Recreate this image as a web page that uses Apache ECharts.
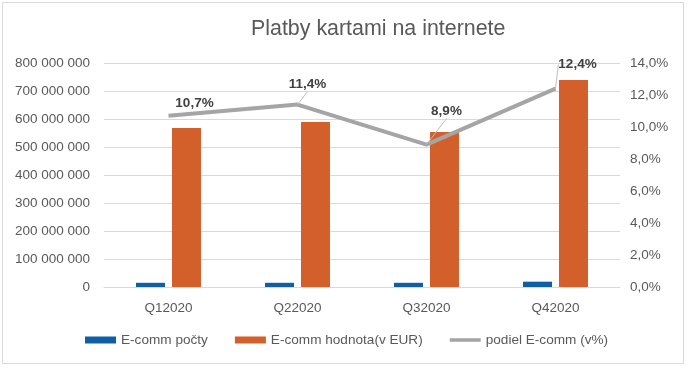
<!DOCTYPE html>
<html>
<head>
<meta charset="utf-8">
<script src="https://cdn.jsdelivr.net/npm/echarts@6/dist/echarts.min.js"></script>
<style>html,body{margin:0;padding:0;background:#fff}#c{width:688px;height:371px}</style>
</head>
<body>
<div id="c"></div>
<script>
const categories = ['Q12020', 'Q22020', 'Q32020', 'Q42020'];
const ecommCount = [15000000, 15000000, 15000000, 19000000];
const ecommValue = [568000000, 589000000, 554000000, 739000000];
const ecommShare = [10.7, 11.4, 8.9, 12.4];
const seriesNames = ['E-comm počty', 'E-comm hodnota(v EUR)', 'podiel E-comm (v%)'];
const titleText = 'Platby kartami na internete';

const labelShift = [[26, 0], [10, -8], [20, -21], [22, -12]];
const showLeader = [false, true, true, true];
const FONT = 'Liberation Sans';
const FS = 13.5;

const chart = echarts.init(document.getElementById('c'), null, {renderer: 'canvas'});
chart.setOption({
  animation: false,
  backgroundColor: '#ffffff',
  textStyle: {fontFamily: FONT},
  title: {
    text: titleText,
    left: 251,
    top: 19,
    textStyle: {fontFamily: FONT, fontSize: 21.4, fontWeight: 'normal', color: '#595959'},
    padding: 0
  },
  graphic: [{
    type: 'rect',
    shape: {x: 2.5, y: 2.5, width: 681, height: 361},
    style: {fill: 'none', stroke: '#d9d9d9', lineWidth: 1},
    silent: true
  }],
  legend: {
    left: 85,
    top: 333,
    itemWidth: 31,
    itemHeight: 7,
    itemGap: 27,
    padding: 0,
    symbolKeepAspect: true,
    textStyle: {fontFamily: FONT, fontSize: 13.6, color: '#595959'},
    data: [
      {name: seriesNames[0], icon: 'rect'},
      {name: seriesNames[1], icon: 'rect'},
      {name: seriesNames[2], icon: 'path://M0,0H35V4H0Z', itemStyle: {color: '#A5A5A5'}}
    ]
  },
  grid: {left: 104, right: 68, top: 63, bottom: 84},
  xAxis: {
    type: 'category',
    data: categories,
    axisLine: {lineStyle: {color: '#d9d9d9'}},
    axisTick: {show: false},
    axisLabel: {fontFamily: FONT, fontSize: FS, color: '#595959', margin: 14}
  },
  yAxis: [{
    type: 'value',
    min: 0, max: 800000000, interval: 100000000,
    axisLine: {show: false},
    axisTick: {show: false},
    splitLine: {lineStyle: {color: '#d9d9d9'}},
    axisLabel: {
      fontFamily: FONT, fontSize: FS, color: '#595959', margin: 14,
      formatter: v => String(v).replace(/\B(?=(\d{3})+(?!\d))/g, ' ')
    }
  }, {
    type: 'value',
    min: 0, max: 14, interval: 2,
    axisLine: {show: false},
    axisTick: {show: false},
    splitLine: {show: false},
    axisLabel: {
      fontFamily: FONT, fontSize: FS, color: '#595959', margin: 10,
      formatter: v => v.toFixed(1).replace('.', ',') + '%'
    }
  }],
  series: [{
    name: seriesNames[0],
    type: 'bar',
    data: ecommCount,
    barWidth: 29,
    barGap: '24%',
    itemStyle: {color: '#0F5FA6'}
  }, {
    name: seriesNames[1],
    type: 'bar',
    data: ecommValue,
    barWidth: 29,
    barGap: '24%',
    itemStyle: {color: '#D35F2A'}
  }, {
    name: seriesNames[2],
    type: 'line',
    yAxisIndex: 1,
    data: ecommShare.map((v, i) => ({value: v, labelLine: {show: showLeader[i]}})),
    symbol: 'circle',
    symbolSize: 0.1,
    showSymbol: true,
    lineStyle: {color: '#A5A5A5', width: 4},
    itemStyle: {color: '#A5A5A5'},
    z: 5,
    label: {
      show: true,
      position: 'top',
      distance: 5,
      fontFamily: FONT,
      fontSize: FS,
      fontWeight: 'bold',
      color: '#404040',
      formatter: p => p.value.toFixed(1).replace('.', ',') + '%'
    },
    labelLine: {show: true, lineStyle: {color: '#bfbfbf', width: 1}},
    labelLayout: p => ({dx: labelShift[p.dataIndex][0], dy: labelShift[p.dataIndex][1]})
  }]
});
</script>
</body>
</html>
